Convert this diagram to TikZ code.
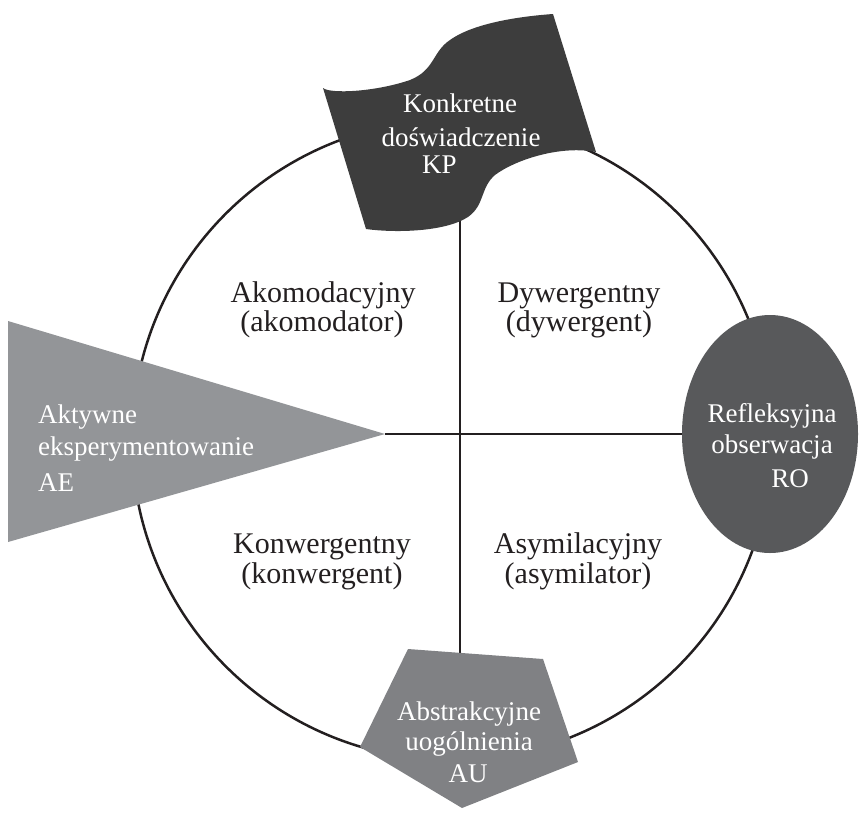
\documentclass[tikz,border=0pt]{standalone}
\usepackage{fontspec}
\setmainfont{Liberation Serif}
\usetikzlibrary{shapes.geometric}
\definecolor{inkc}{HTML}{231F20}
\definecolor{flagc}{HTML}{3D3D3D}
\definecolor{ellc}{HTML}{58595B}
\definecolor{tric}{HTML}{939598}
\definecolor{pentc}{HTML}{808184}
\begin{document}
\begin{tikzpicture}[x=1pt,y=-1pt,
  cyc/.style={draw=inkc, line width=2.5pt},
  conn/.style={draw=inkc, line width=2.6pt},
  lbl/.style={text=white, font=\fontsize{27}{27}\selectfont, inner sep=0pt, anchor=base},
  lblw/.style={lbl, anchor=base west},
  qlbl/.style={text=inkc, font=\fontsize{30}{30}\selectfont, inner sep=0pt, anchor=base}]
\useasboundingbox (0,0) rectangle (859,812);
% cycle circle
\draw[cyc] (452,440) circle[radius=320];
% RO ellipse
\node[ellipse, fill=ellc, minimum width=176pt, minimum height=238pt, inner sep=0pt] (ro) at (770,434) {};
% connector end points
\coordinate (aetip) at (385,434);
\coordinate (kpbot) at (460,214);
\coordinate (autop) at (460,654);
\draw[conn] (aetip) -- (ro.west);
\draw[conn] (kpbot) -- (autop);
% KP flag
\fill[flagc] (323,88) .. controls (330,94) and (375,92) .. (410,80)
  .. controls (435,70) and (432,52) .. (450,40)
  .. controls (475,22) and (525,16) .. (553,14)
  -- (596,152)
  .. controls (560,145) and (515,160) .. (495,175)
  .. controls (480,188) and (485,205) .. (468,217)
  .. controls (445,232) and (395,233) .. (366,229)
  -- cycle;
% AE triangle
\fill[tric] (8,321) -- (aetip) -- (8,542) -- cycle;
% AU pentagon
\fill[pentc] (408,649) -- (543,659) -- (578,762) -- (462,808) -- (360,747) -- cycle;
% labels
\node[lbl] (kp1) at (460,112) {Konkretne};
\node[lbl] (kp2) at (461,146) {doświadczenie};
\node[lblw] (kp3) at (422,173) {KP};
\node[lbl] (ro1) at (772,422) {Refleksyjna};
\node[lbl] (ro2) at (772,453) {obserwacja};
\node[lbl] (ro3) at (790,487) {RO};
\node[lblw] (ae1) at (38,423) {Aktywne};
\node[lblw] (ae2) at (38,455) {eksperymentowanie};
\node[lblw] (ae3) at (38,491) {AE};
\node[lbl] (au1) at (469,720) {Abstrakcyjne};
\node[lbl] (au2) at (469,750) {uogólnienia};
\node[lbl] (au3) at (468,782) {AU};
\node[qlbl] (q1a) at (323,302) {Akomodacyjny};
\node[qlbl] (q1b) at (322,331) {(akomodator)};
\node[qlbl] (q2a) at (579,302) {Dywergentny};
\node[qlbl] (q2b) at (579,331) {(dywergent)};
\node[qlbl] (q3a) at (322,553) {Konwergentny};
\node[qlbl] (q3b) at (322,583) {(konwergent)};
\node[qlbl] (q4a) at (578,553) {Asymilacyjny};
\node[qlbl] (q4b) at (578,583) {(asymilator)};
\end{tikzpicture}
\end{document}
